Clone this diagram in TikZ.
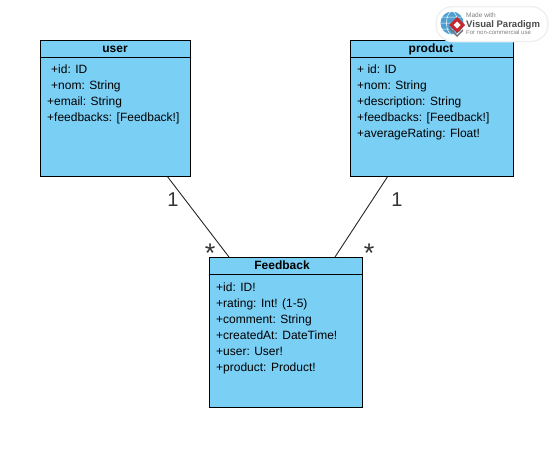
\documentclass[tikz,border=0pt]{standalone}
\usepackage{fontspec}
\setmainfont{Liberation Sans}
\usetikzlibrary{calc}
\definecolor{classfill}{HTML}{7ACFF5}
\definecolor{linetxt}{HTML}{333333}
\definecolor{globeblue}{HTML}{4C9FD0}
\definecolor{logored}{HTML}{C8282D}
\tikzset{
  x=1pt,y=-1pt,
  classbox/.style={draw=black,fill=classfill,line width=1pt,minimum width=#1,inner sep=0pt,anchor=north west},
  titletxt/.style={font=\fontsize{12}{14}\selectfont\bfseries,text=black,anchor=base},
  attr/.style={font=\fontsize{12}{16}\selectfont,text=black,anchor=base west,inner sep=0pt},
  link/.style={draw=black!85,line width=0.9pt},
  mult/.style={font=\fontsize{20}{22}\selectfont,text=linetxt,anchor=center,inner sep=0pt},
  star/.style={font=\fontsize{27}{27}\selectfont,text=linetxt,anchor=base,inner sep=0pt},
}
\begin{document}
\begin{tikzpicture}
\useasboundingbox (0,0) rectangle (553,448);
% connector end points
\coordinate (u1) at (167,176);
\coordinate (f1) at (229,257);
\coordinate (p1) at (388,176);
\coordinate (f2) at (335,257);
\draw[link] (u1) -- (f1);
\draw[link] (p1) -- (f2);
% user
\node[classbox=150pt,minimum height=135.5pt] (user) at (40,40) {};
\draw[line width=1pt] (40,57) -- (190,57);
\node[titletxt] (usert) at (115,52.5) {user};
\node[attr] (ua1) at (51,73) {+id: ID};
\node[attr] (ua2) at (51,89) {+nom: String};
\node[attr] (ua3) at (47,105) {+email: String};
\node[attr] (ua4) at (47,121) {+feedbacks: [Feedback!]};
% product
\node[classbox=163pt,minimum height=135.5pt] (product) at (350,40) {};
\draw[line width=1pt] (350,57) -- (513,57);
\node[titletxt] (prodt) at (431,52.5) {product};
\node[attr] (pa1) at (357,73) {+ id: ID};
\node[attr] (pa2) at (357,89) {+nom: String};
\node[attr] (pa3) at (357,105) {+description: String};
\node[attr] (pa4) at (357,121) {+feedbacks: [Feedback!]};
\node[attr] (pa5) at (357,137) {+averageRating: Float!};
% feedback
\node[classbox=153pt,minimum height=150pt] (fb) at (209,257) {};
\draw[line width=1pt] (209,274) -- (362,274);
\node[titletxt] (fbt) at (282,269.5) {Feedback};
\node[attr] (fa1) at (216,291) {+id: ID!};
\node[attr] (fa2) at (216,307) {+rating: Int! (1-5)};
\node[attr] (fa3) at (216,323) {+comment: String};
\node[attr] (fa4) at (216,339) {+createdAt: DateTime!};
\node[attr] (fa5) at (216,355) {+user: User!};
\node[attr] (fa6) at (216,371) {+product: Product!};
% multiplicities
\node[mult] (m1) at (173,200) {1};
\node[star] (m2) at (210,262) {*};
\node[mult] (m3) at (397,200) {1};
\node[star] (m4) at (369,262) {*};
% logo
\node[draw=black!6,fill=white,rounded corners=17pt,minimum width=112pt,minimum height=35pt,inner sep=0pt,line width=1.5pt] (logo) at (492,24) {};
\fill[globeblue] (452,23) circle (11.5);
\draw[white,line width=0.5pt] (452,23) circle [x radius=5.5,y radius=11.5] (440.5,23) -- (463.5,23) (442,17) -- (462,17) (442,29) -- (462,29);
\fill[logored] (457,17) -- (465,25) -- (457,33) -- (449,25) -- cycle;
\fill[black!55] (449,27) -- (457,35) -- (463,29) -- (463,31) -- (457,37) -- (449,29) -- cycle;
\fill[white] (457,21.5) -- (460.5,25) -- (457,28.5) -- (453.5,25) -- cycle;
\node[font=\fontsize{6.5}{7}\selectfont,text=black!50,anchor=base west,inner sep=0pt] (lg1) at (466,17.5) {Made with};
\node[font=\fontsize{9.5}{10}\selectfont\bfseries,text=black!70,anchor=base west,inner sep=0pt] (lg2) at (466,27.5) {Visual Paradigm};
\node[font=\fontsize{6}{7}\selectfont,text=black!50,anchor=base west,inner sep=0pt] (lg3) at (466,34.5) {For non-commercial use};
\end{tikzpicture}
\end{document}
